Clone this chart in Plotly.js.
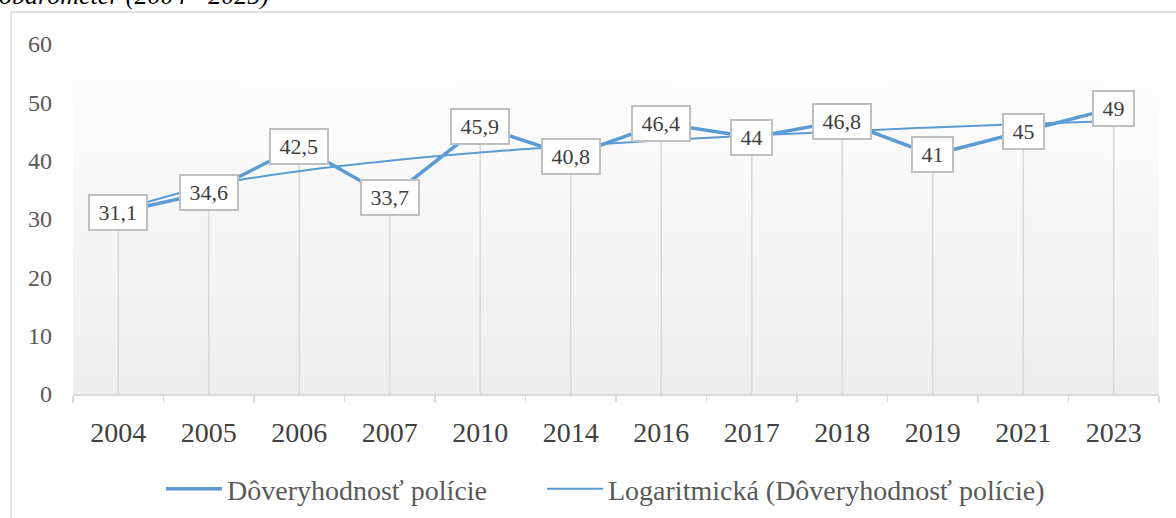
<!DOCTYPE html>
<html>
<head>
<meta charset="utf-8">
<script src="https://cdn.plot.ly/plotly-3.0.1.min.js"></script>
<style>html,body{margin:0;padding:0;background:#fff;}#chart{width:1176px;height:518px;}</style>
</head>
<body>
<div id="chart"></div>
<script>
// ---- data ----
const years = ['2004','2005','2006','2007','2010','2014','2016','2017','2018','2019','2021','2023'];
const trust = [31.1, 34.6, 42.5, 33.7, 45.9, 40.8, 46.4, 44, 46.8, 41, 45, 49];
const trendLog = [31.4, 35.7, 38.2, 40.0, 41.4, 42.5, 43.5, 44.3, 45.0, 45.7, 46.3, 46.8];
const yTicks = [0, 10, 20, 30, 40, 50, 60];
const seriesName = 'Dôveryhodnosť polície';
const trendName = 'Logaritmická (Dôveryhodnosť polície)';
const titleText = 'obarometer (2004 - 2025)';

// ---- layout geometry ----
const W = 1176, H = 518;
const L = 73, R = 17, T = 44, B = 124;
const pw = W - L - R, ph = H - T - B;
const px = x => (x - L) / pw;
const py = y => (H - B - y) / ph;

const serif = 'Liberation Serif, Times New Roman, serif';
const blue = '#5B9BD5';

// gradient background image
const cv = document.createElement('canvas');
cv.width = 10; cv.height = 200;
const ctx = cv.getContext('2d');
const g = ctx.createLinearGradient(0, 0, 0, 200);
g.addColorStop(0, '#ffffff');
g.addColorStop(1, '#eeeeee');
ctx.fillStyle = g; ctx.fillRect(0, 0, 10, 200);
const bgURL = cv.toDataURL('image/png');

const traces = [
  {
    x: years, y: trust, type: 'scatter', mode: 'markers',
    marker: {size: 1, color: 'rgba(0,0,0,0)'},
    error_y: {type: 'data', symmetric: false, array: trust.map(() => 0), arrayminus: trust,
              color: '#d9d9d9', thickness: 1.6, width: 0},
    showlegend: false, hoverinfo: 'skip'
  },
  {
    x: years, y: trust, type: 'scatter', mode: 'lines', name: seriesName,
    line: {color: blue, width: 3.5}, legend: 'legend'
  },
  {
    x: years, y: trendLog, type: 'scatter', mode: 'lines', name: trendName,
    line: {color: blue, width: 2, shape: 'spline'}, legend: 'legend2'
  }
];

function labelWidth(s) {
  let w = 0;
  for (const ch of s) w += (ch === ',' ? 0.25 : 0.5);
  return w * 22 + 11;
}

const annotations = trust.map((v, i) => {
  const s = String(v).replace('.', ',');
  return {
    x: i, y: v, xref: 'x', yref: 'y', text: s, showarrow: false,
    font: {family: serif, size: 22, color: '#404040'},
    bgcolor: '#ffffff', bordercolor: '#bfbfbf', borderwidth: 2, borderpad: 3,
    width: labelWidth(s), height: 27, align: 'center', valign: 'middle'
  };
});
annotations.push({
  xref: 'paper', yref: 'paper', x: px(271), y: py(-4), xanchor: 'right', yanchor: 'middle',
  text: titleText, showarrow: false,
  font: {family: serif, size: 26, color: '#000000', style: 'italic'}
});

const legendFont = {family: serif, size: 28, color: '#595959'};

const layout = {
  width: W, height: H,
  margin: {l: L, r: R, t: T, b: B, pad: 0, autoexpand: false},
  paper_bgcolor: '#ffffff', plot_bgcolor: 'rgba(0,0,0,0)',
  showlegend: true,
  images: [{source: bgURL, xref: 'paper', yref: 'paper', x: 0, y: 1, sizex: 1, sizey: 1,
            sizing: 'stretch', layer: 'below', xanchor: 'left', yanchor: 'top'}],
  xaxis: {
    type: 'category', categoryorder: 'array', categoryarray: years, automargin: false,
    showgrid: false, zeroline: false, showline: true, linecolor: '#d9d9d9', linewidth: 1.5,
    ticks: 'outside', tickson: 'boundaries', ticklen: 7, tickcolor: '#d9d9d9', tickwidth: 1.5,
    tickfont: {family: serif, size: 28, color: '#404040'}, ticklabelstandoff: 13,
    range: [-0.5, 11.5], fixedrange: true
  },
  yaxis: {
    range: [0, 60], tickvals: yTicks, ticktext: yTicks.map(String), automargin: false,
    showgrid: false, zeroline: false, showline: false, ticks: '',
    tickfont: {family: serif, size: 24, color: '#595959'}, ticklabelstandoff: 20,
    fixedrange: true
  },
  legend: {
    orientation: 'h', x: px(161), xanchor: 'left', y: py(489), yanchor: 'middle',
    font: legendFont, bgcolor: 'rgba(0,0,0,0)', itemwidth: 56
  },
  legend2: {
    orientation: 'h', x: px(542), xanchor: 'left', y: py(489), yanchor: 'middle',
    font: legendFont, bgcolor: 'rgba(0,0,0,0)', itemwidth: 56
  },
  shapes: [
    {type: 'line', xref: 'paper', yref: 'paper', x0: px(11), x1: px(11), y0: py(12), y1: py(530),
     line: {color: '#d9d9d9', width: 1.5}},
    {type: 'line', xref: 'paper', yref: 'paper', x0: px(11), x1: px(1190), y0: py(12), y1: py(12),
     line: {color: '#d9d9d9', width: 1.5}}
  ],
  annotations: annotations
};

Plotly.newPlot('chart', traces, layout, {displayModeBar: false, staticPlot: true});
</script>
</body>
</html>
